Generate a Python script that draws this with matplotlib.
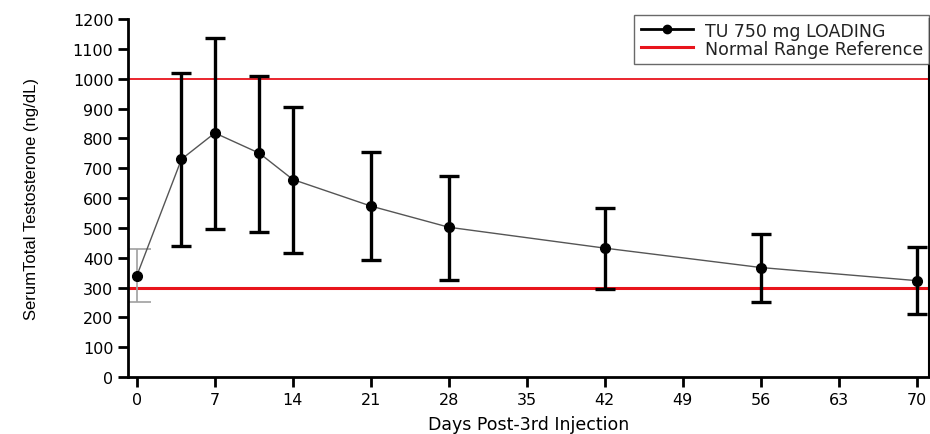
import matplotlib
matplotlib.use("Agg")
import matplotlib.pyplot as plt
import numpy as np

plt.rcParams['font.family'] = ['DejaVu Sans']

# data
days = [0, 4, 7, 11, 14, 21, 28, 42, 56, 70]
mean = [340, 730, 818, 750, 662, 573, 502, 432, 367, 323]
low = [250, 440, 495, 487, 415, 393, 325, 295, 253, 212]
high = [430, 1020, 1138, 1010, 905, 755, 675, 567, 480, 435]
normal_range = [300, 1000]
xticks = [0, 7, 14, 21, 28, 35, 42, 49, 56, 63, 70]
yticks = list(range(0, 1201, 100))

mean = np.array(mean)
yerr = np.array([mean - np.array(low), np.array(high) - mean])

fig = plt.figure(figsize=(9.3, 4.35), dpi=100)
ax = fig.add_axes([0.1376, 0.131, 0.8614, 0.823])

for i, r in enumerate(normal_range):
    ax.axhline(r, color='#e8141c', lw=1.3 if i else 2.2, zorder=1,
               label='Normal Range Reference' if i == 0 else None)

# first point has a grey bar
ax.errorbar(days[:1], mean[:1], yerr=yerr[:, :1], fmt='none', ecolor='#a0a0a0',
            elinewidth=1.2, capsize=10, capthick=1.2, zorder=2)
ax.errorbar(days[1:], mean[1:], yerr=yerr[:, 1:], fmt='none', ecolor='black',
            elinewidth=2.4, capsize=7, capthick=2.4, zorder=2)
ax.plot(days, mean, color='#555555', lw=1.0, zorder=3)
ax.plot(days, mean, 'o', color='black', ms=7, zorder=4)

# legend proxy
ax.plot([], [], '-o', color='black', lw=2, ms=6, label='TU 750 mg LOADING')
h, l = ax.get_legend_handles_labels()
leg = ax.legend(h[::-1], l[::-1], loc='upper right', bbox_to_anchor=(1.0, 1.01),
                fontsize=12.5, frameon=True, fancybox=False, borderpad=0.35,
                handlelength=3.0, handletextpad=0.7, labelspacing=0.0,
                borderaxespad=0)
leg.get_frame().set_edgecolor('#444444')
leg.get_frame().set_linewidth(1.0)
for t in leg.get_texts():
    t.set_color('#222222')

ax.set_xlim(-0.8, 71.1)
ax.set_ylim(0, 1200)
ax.set_xticks(xticks)
ax.set_yticks(yticks)
ax.tick_params(axis='both', direction='out', length=7, width=2, labelsize=11.5,
               colors='black')
ax.spines['top'].set_visible(False)
for s in ['left', 'bottom']:
    ax.spines[s].set_linewidth(2)
ax.spines['right'].set_linewidth(1.5)

ax.set_ylabel('SerumTotal Testosterone (ng/dL)', fontsize=12, labelpad=24,
              family=['Liberation Sans', 'DejaVu Sans'])
ax.set_xlabel('Days Post-3rd Injection', fontsize=12.5, labelpad=6)

fig.savefig('out.png', dpi=100)
